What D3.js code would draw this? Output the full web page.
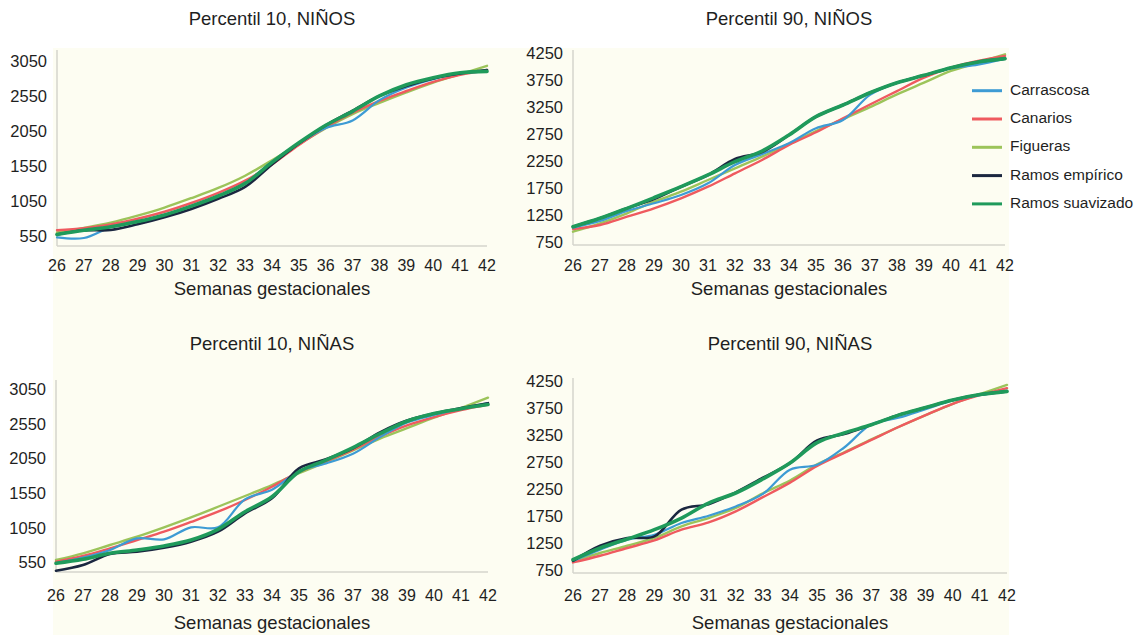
<!DOCTYPE html>
<html lang="es">
<head>
<meta charset="UTF-8">
<title>Percentiles de peso al nacer</title>
<script src="https://d3js.org/d3.v7.min.js"></script>
<style>
    body { margin: 0; background: #fff; }
    svg text { font-family: "Liberation Sans", Arial, Helvetica, sans-serif; fill: #1f1f1f; }
</style>
</head>
<body>
<div id="chart"></div>
<script>
// weeks on the x axis
const weeks = [26, 27, 28, 29, 30, 31, 32, 33, 34, 35, 36, 37, 38, 39, 40, 41, 42];
const seriesNames = ["Carrascosa", "Canarios", "Figueras", "Ramos empírico", "Ramos suavizado"];

// y ticks
const ticksP10 = [550, 1050, 1550, 2050, 2550, 3050];
const ticksP90 = [750, 1250, 1750, 2250, 2750, 3250, 3750, 4250];

// Percentil 10, NIÑOS
const p10NinosCarrascosa = [560, 550, 705, 785, 880, 1010, 1150, 1330, 1640, 1900, 2120, 2230, 2520, 2700, 2820, 2900, 2930];
const p10NinosCanarios   = [660, 690, 745, 825, 925, 1050, 1195, 1370, 1600, 1880, 2130, 2340, 2510, 2650, 2780, 2880, 2950];
const p10NinosFigueras   = [630, 695, 770, 870, 985, 1120, 1265, 1440, 1660, 1890, 2120, 2320, 2480, 2630, 2770, 2890, 3010];
const p10NinosEmpirico   = [600, 660, 664, 745, 845, 965, 1110, 1280, 1600, 1900, 2160, 2370, 2580, 2720, 2830, 2900, 2950];
const p10NinosSuavizado  = [600, 660, 710, 785, 880, 1005, 1150, 1330, 1630, 1910, 2160, 2360, 2580, 2740, 2840, 2910, 2930];

// Percentil 90, NIÑOS
const p90NinosCarrascosa = [1040, 1163, 1348, 1491, 1644, 1861, 2200, 2400, 2602, 2880, 3033, 3500, 3724, 3861, 3990, 4060, 4170];
const p90NinosCanarios   = [1015, 1089, 1243, 1398, 1583, 1798, 2046, 2293, 2571, 2806, 3065, 3321, 3569, 3817, 4003, 4127, 4219];
const p90NinosFigueras   = [965, 1120, 1306, 1520, 1706, 1922, 2139, 2354, 2590, 2830, 3050, 3272, 3507, 3724, 3941, 4096, 4250];
const p90NinosEmpirico   = [1058, 1213, 1398, 1570, 1798, 2015, 2311, 2440, 2756, 3095, 3311, 3538, 3724, 3861, 4003, 4108, 4170];
const p90NinosSuavizado  = [1058, 1213, 1398, 1595, 1798, 2015, 2261, 2459, 2756, 3095, 3311, 3538, 3724, 3861, 4003, 4108, 4170];

// Percentil 10, NIÑAS
const p10NinasCarrascosa = [560, 642, 752, 920, 906, 1079, 1079, 1483, 1620, 1890, 2000, 2140, 2380, 2590, 2700, 2790, 2870];
const p10NinasCanarios   = [583, 665, 776, 896, 1016, 1156, 1304, 1473, 1665, 1880, 2030, 2200, 2390, 2550, 2670, 2770, 2850];
const p10NinasFigueras   = [608, 704, 824, 944, 1079, 1223, 1376, 1531, 1689, 1860, 2020, 2190, 2360, 2510, 2660, 2800, 2950];
const p10NinasEmpirico   = [453, 536, 694, 727, 785, 872, 1016, 1281, 1497, 1930, 2060, 2220, 2450, 2620, 2720, 2800, 2870];
const p10NinasSuavizado  = [560, 618, 704, 752, 810, 896, 1050, 1304, 1521, 1880, 2050, 2230, 2430, 2610, 2720, 2790, 2850];

// Percentil 90, NIÑAS
const p90NinasCarrascosa = [950, 1157, 1343, 1435, 1652, 1787, 1959, 2190, 2640, 2730, 3050, 3480, 3600, 3760, 3920, 4020, 4100];
const p90NinasCanarios   = [922, 1046, 1189, 1330, 1528, 1663, 1867, 2130, 2400, 2710, 2950, 3190, 3430, 3650, 3860, 4020, 4150];
const p90NinasFigueras   = [950, 1096, 1231, 1374, 1589, 1744, 1930, 2200, 2440, 2740, 2960, 3200, 3430, 3650, 3860, 4040, 4210];
const p90NinasEmpirico   = [950, 1231, 1374, 1404, 1900, 2000, 2220, 2490, 2760, 3180, 3300, 3470, 3650, 3790, 3930, 4030, 4090];
const p90NinasSuavizado  = [972, 1189, 1355, 1528, 1744, 2022, 2207, 2467, 2763, 3140, 3320, 3470, 3650, 3790, 3930, 4030, 4090];

const colors = {
    "Carrascosa": "#3d9bd4",
    "Canarios": "#ef5a5f",
    "Figueras": "#9cc45a",
    "Ramos empírico": "#1b2740",
    "Ramos suavizado": "#1f9a5b"
};
const widths = {
    "Carrascosa": 2.2,
    "Canarios": 2.4,
    "Figueras": 2.4,
    "Ramos empírico": 2.6,
    "Ramos suavizado": 3.6
};
const drawOrder = ["Figueras", "Canarios", "Carrascosa", "Ramos empírico", "Ramos suavizado"];

const panels = [
    { title: "Percentil 10, NIÑOS", ticks: ticksP10, x0: 57, x1: 487, yLo: 238, yHi: 63, top: 50, bottom: 246, titleY: 20, labelY: 267, axisTitleY: 290,
      data: [p10NinosCarrascosa, p10NinosCanarios, p10NinosFigueras, p10NinosEmpirico, p10NinosSuavizado] },
    { title: "Percentil 90, NIÑOS", ticks: ticksP90, x0: 573, x1: 1005, yLo: 243.3, yHi: 54.3, top: 50, bottom: 245, titleY: 20, labelY: 267, axisTitleY: 290, legend: true,
      data: [p90NinosCarrascosa, p90NinosCanarios, p90NinosFigueras, p90NinosEmpirico, p90NinosSuavizado] },
    { title: "Percentil 10, NIÑAS", ticks: ticksP10, x0: 56, x1: 488, yLo: 564, yHi: 390.7, top: 380, bottom: 572, titleY: 345, labelY: 597, axisTitleY: 624,
      data: [p10NinasCarrascosa, p10NinasCanarios, p10NinasFigueras, p10NinasEmpirico, p10NinasSuavizado] },
    { title: "Percentil 90, NIÑAS", ticks: ticksP90, x0: 573, x1: 1007, yLo: 571.7, yHi: 382.7, top: 378, bottom: 573, titleY: 345, labelY: 597, axisTitleY: 624,
      data: [p90NinasCarrascosa, p90NinasCanarios, p90NinasFigueras, p90NinasEmpirico, p90NinasSuavizado] }
];

const svg = d3.select("#chart").append("svg")
    .attr("width", 1139)
    .attr("height", 635);

// cream background behind the plots
svg.append("rect")
    .attr("x", 53).attr("y", 48)
    .attr("width", 956).attr("height", 587)
    .attr("fill", "#fdfdf2");

panels.forEach(p => {
    const g = svg.append("g");
    const x = d3.scalePoint().domain(weeks).range([p.x0, p.x1]);
    const tLo = p.ticks[0], tHi = p.ticks[p.ticks.length - 1];
    const y = d3.scaleLinear().domain([tLo, tHi]).range([p.yLo, p.yHi]);
    const cx = (p.x0 + p.x1) / 2;

    // title
    g.append("text")
        .attr("x", cx).attr("y", p.titleY)
        .attr("text-anchor", "middle").attr("dominant-baseline", "middle")
        .style("font-size", "18.5px")
        .text(p.title);

    // axis lines
    g.append("line")
        .attr("x1", p.x0).attr("x2", p.x0).attr("y1", p.top).attr("y2", p.bottom)
        .attr("stroke", "#d4d4cc").attr("stroke-width", 1.5);
    g.append("line")
        .attr("x1", p.x0).attr("x2", p.x1).attr("y1", p.bottom).attr("y2", p.bottom)
        .attr("stroke", "#d4d4cc").attr("stroke-width", 1.5);

    // y tick labels
    g.selectAll(".ytick")
        .data(p.ticks)
        .enter().append("text")
        .attr("x", p.x0 - 10).attr("y", d => y(d))
        .attr("text-anchor", "end").attr("dominant-baseline", "middle")
        .style("font-size", "16.5px")
        .text(d => d);

    // x tick labels
    g.selectAll(".xtick")
        .data(weeks)
        .enter().append("text")
        .attr("x", d => x(d)).attr("y", p.labelY)
        .attr("text-anchor", "middle").attr("dominant-baseline", "middle")
        .style("font-size", "16px")
        .text(d => d);

    g.append("text")
        .attr("x", cx).attr("y", p.axisTitleY)
        .attr("text-anchor", "middle").attr("dominant-baseline", "middle")
        .style("font-size", "18.5px")
        .text("Semanas gestacionales");

    const line = d3.line()
        .x((d, i) => x(weeks[i]))
        .y(d => y(d))
        .curve(d3.curveCatmullRom.alpha(0.5));

    drawOrder.forEach(name => {
        const vals = p.data[seriesNames.indexOf(name)];
        g.append("path")
            .datum(vals)
            .attr("d", line)
            .attr("fill", "none")
            .attr("stroke", colors[name])
            .attr("stroke-width", widths[name])
            .attr("stroke-linejoin", "round")
            .attr("stroke-linecap", "round");
    });

    if (p.legend) {
        const lg = g.append("g");
        seriesNames.forEach((name, i) => {
            const ly = 90.7 + i * 28.3;
            lg.append("line")
                .attr("x1", 972).attr("x2", 1002).attr("y1", ly).attr("y2", ly)
                .attr("stroke", colors[name]).attr("stroke-width", 3);
            lg.append("text")
                .attr("x", 1010).attr("y", ly)
                .attr("dominant-baseline", "middle")
                .style("font-size", "15.5px")
                .text(name);
        });
    }
});
</script>
</body>
</html>
